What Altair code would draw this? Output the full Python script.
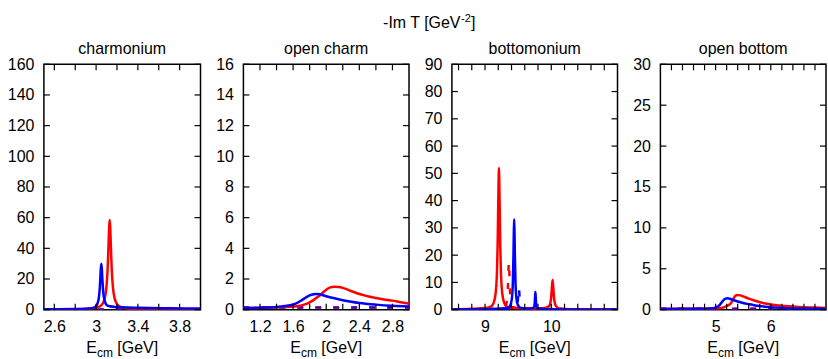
import altair as alt
import pandas as pd

FONT = "Liberation Sans"
RED = "#ff0000"
BLUE = "#0000ff"
H = 246

# ---------------- charmonium ----------------
CH_RED_X = [2.5, 2.73, 2.93, 3.01, 3.05, 3.07, 3.09, 3.10, 3.11, 3.115, 3.12, 3.125, 3.13,
            3.135, 3.14, 3.145, 3.15, 3.16, 3.17, 3.19, 3.21, 3.25, 3.33, 3.53, 4.0]
CH_RED_Y = [0.1, 0.2, 0.55, 1.4, 2.9, 4.9, 9.9, 15.5, 26, 34.5, 44.5, 54, 58.5,
            54, 44.5, 34.5, 26, 15.5, 9.9, 4.9, 2.9, 1.4, 0.55, 0.2, 0.1]
CH_BLUE_X = [2.5, 2.8, 2.9, 2.97, 3.0, 3.02, 3.03, 3.035, 3.04, 3.045, 3.05, 3.055, 3.06,
             3.065, 3.07, 3.08, 3.1, 3.13, 3.2, 3.4, 3.7, 4.0]
CH_BLUE_Y = [0.3, 0.4, 0.6, 1.2, 2.4, 5.5, 10, 14, 20, 26.6, 30, 26.6, 20,
             14.5, 10.5, 6.3, 3.2, 2.2, 1.7, 1.2, 0.9, 0.8]
CH_DASH_X = [2.5, 4.0]
CH_DASH_Y = [0.2, 0.2]

# ---------------- open charm ----------------
OC_RED_X = [1.0, 1.2, 1.4, 1.5, 1.6, 1.7, 1.75, 1.8, 1.85, 1.9, 1.95, 2.0, 2.05, 2.1,
            2.15, 2.2, 2.3, 2.4, 2.5, 2.6, 2.7, 2.8, 2.9, 3.0]
OC_RED_Y = [0.1, 0.12, 0.15, 0.17, 0.2, 0.27, 0.36, 0.48, 0.64, 0.84, 1.06, 1.3, 1.45, 1.5,
            1.48, 1.42, 1.22, 1.02, 0.88, 0.76, 0.67, 0.59, 0.49, 0.4]
OC_BLUE_X = [1.0, 1.2, 1.4, 1.5, 1.6, 1.65, 1.7, 1.75, 1.8, 1.85, 1.88, 1.92, 2.0, 2.1,
             2.2, 2.3, 2.4, 2.6, 2.8, 3.0]
OC_BLUE_Y = [0.1, 0.13, 0.18, 0.24, 0.34, 0.45, 0.6, 0.78, 0.93, 1.0, 1.02, 1.0, 0.88, 0.74,
             0.62, 0.52, 0.44, 0.33, 0.25, 0.2]
OC_DASH_X = [1.0, 3.0]
OC_DASH_Y = [0.15, 0.15]

# ---------------- bottomonium ----------------
BB_RED_X = [8.5, 8.8, 9.0, 9.07, 9.11, 9.13, 9.16, 9.18, 9.19, 9.2, 9.21, 9.22, 9.23, 9.24,
            9.26, 9.29, 9.31, 9.35, 9.5, 9.7, 9.9, 9.97, 9.99, 10.0, 10.01, 10.02, 10.03,
            10.04, 10.05, 10.07, 10.12, 10.3, 10.6, 11.0]
BB_RED_Y = [0.1, 0.3, 0.6, 0.9, 1.6, 2.5, 6.0, 13.8, 23.3, 39.7, 52, 39.7, 23.3, 13.8,
            6.0, 2.5, 1.6, 0.9, 0.5, 0.4, 0.6, 1.4, 2.9, 4.9, 8.3, 10.9, 8.3,
            4.9, 2.9, 1.4, 0.4, 0.15, 0.1, 0.1]
BB_BLUE_X = [8.5, 9.0, 9.3, 9.36, 9.39, 9.41, 9.42, 9.43, 9.435, 9.44, 9.445, 9.45, 9.46,
             9.47, 9.49, 9.54, 9.65, 9.72, 9.74, 9.75, 9.755, 9.76, 9.765, 9.77, 9.78, 9.8,
             9.9, 10.5, 11.0]
BB_BLUE_Y = [0.1, 0.2, 0.5, 0.85, 2.1, 5.2, 9.9, 20.9, 28.9, 33.2, 28.9, 20.9, 9.9,
             5.2, 2.1, 0.6, 0.4, 0.6, 0.9, 2.5, 4.7, 6.5, 4.7, 2.5, 0.9, 0.4,
             0.2, 0.1, 0.1]
BB_RDASH_X = [8.5, 9.2, 9.3, 9.33, 9.345, 9.355, 9.36, 9.365, 9.375, 9.39, 9.42, 9.6, 11.0]
BB_RDASH_Y = [0.15, 0.3, 1.0, 3, 8, 15, 17.6, 15, 8, 3, 1.0, 0.3, 0.15]
BB_BDASH_X = [8.5, 9.3, 9.42, 9.44, 9.46, 9.48, 9.495, 9.505, 9.51, 9.515, 9.525, 9.54, 9.6, 11.0]
BB_BDASH_Y = [0.15, 0.2, 0.6, 1.2, 0.6, 1.0, 3.5, 7, 8.2, 7, 3.5, 1.0, 0.3, 0.15]

# ---------------- open bottom ----------------
OB_RED_X = [4.0, 4.5, 5.0, 5.1, 5.2, 5.28, 5.32, 5.36, 5.4, 5.45, 5.5, 5.6, 5.7, 5.8,
            5.9, 6.0, 6.2, 6.5, 6.8, 7.0]
OB_RED_Y = [0.08, 0.1, 0.15, 0.2, 0.45, 0.8, 1.3, 1.7, 1.8, 1.75, 1.63, 1.35, 1.12, 0.92,
            0.75, 0.64, 0.47, 0.33, 0.26, 0.22]
OB_BLUE_X = [4.0, 4.5, 4.8, 4.95, 5.02, 5.07, 5.1, 5.14, 5.18, 5.22, 5.27, 5.33, 5.4, 5.5,
             5.6, 5.7, 5.8, 5.9, 6.0, 6.2, 6.5, 7.0]
OB_BLUE_Y = [0.08, 0.1, 0.12, 0.18, 0.3, 0.55, 0.8, 1.15, 1.35, 1.4, 1.3, 1.15, 1.0, 0.82,
             0.68, 0.55, 0.45, 0.37, 0.3, 0.22, 0.15, 0.1]
OB_DASH_X = [4.0, 7.0]
OB_DASH_Y = [0.12, 0.12]

# ---------------- axes ----------------
SUBTITLES = ["charmonium", "open charm", "bottomonium", "open bottom"]
WIDTHS = [157, 166, 166, 166]
XDOMS = [[2.5, 4.0], [1.0, 3.0], [8.5, 11.0], [4.0, 7.0]]
YDOMS = [[0, 160], [0, 16], [0, 90], [0, 30]]
XLABELS = [[2.6, 3.0, 3.4, 3.8], [1.2, 1.6, 2.0, 2.4, 2.8], [9, 10], [5, 6]]
XTICKS = [
    [2.6, 2.8, 3.0, 3.2, 3.4, 3.6, 3.8],
    [1.2, 1.4, 1.6, 1.8, 2.0, 2.2, 2.4, 2.6, 2.8],
    [8.6, 8.8, 9.0, 9.2, 9.4, 9.6, 9.8, 10.0, 10.2, 10.4, 10.6, 10.8],
    [4.2, 4.4, 4.6, 4.8, 5.0, 5.2, 5.4, 5.6, 5.8, 6.0, 6.2, 6.4, 6.6, 6.8],
]
YLABELS = [
    [0, 20, 40, 60, 80, 100, 120, 140, 160],
    [0, 2, 4, 6, 8, 10, 12, 14, 16],
    [0, 10, 20, 30, 40, 50, 60, 70, 80, 90],
    [0, 5, 10, 15, 20, 25, 30],
]

SERIES = [
    [(CH_DASH_X, CH_DASH_Y, RED, True, 1.0), (CH_DASH_X, CH_DASH_Y, BLUE, True, 0.75),
     (CH_RED_X, CH_RED_Y, RED, False, 1.0), (CH_BLUE_X, CH_BLUE_Y, BLUE, False, 1.0)],
    [(OC_DASH_X, OC_DASH_Y, RED, True, 1.0), (OC_DASH_X, OC_DASH_Y, BLUE, True, 0.75),
     (OC_RED_X, OC_RED_Y, RED, False, 1.0), (OC_BLUE_X, OC_BLUE_Y, BLUE, False, 1.0)],
    [(BB_RDASH_X, BB_RDASH_Y, RED, True, 1.0), (BB_BDASH_X, BB_BDASH_Y, BLUE, True, 1.0),
     (BB_RED_X, BB_RED_Y, RED, False, 1.0), (BB_BLUE_X, BB_BLUE_Y, BLUE, False, 1.0)],
    [(OB_DASH_X, OB_DASH_Y, RED, True, 1.0), (OB_DASH_X, OB_DASH_Y, BLUE, True, 0.75),
     (OB_RED_X, OB_RED_Y, RED, False, 1.0), (OB_BLUE_X, OB_BLUE_Y, BLUE, False, 1.0)],
]

ONE = pd.DataFrame({"a": [0]})


def txt(s, x, y, size=16, align="left"):
    return alt.Chart(ONE).mark_text(
        text=s, font=FONT, fontSize=size, align=align, baseline="alphabetic", color="black"
    ).encode(x=alt.value(x), y=alt.value(y))


def make_panel(i):
    width = WIDTHS[i]
    xscale = alt.Scale(domain=XDOMS[i], nice=False, zero=False)
    yscale = alt.Scale(domain=YDOMS[i], nice=False, zero=False)
    common = dict(format="~r", ticks=False, domain=False, grid=False, labelFontSize=16,
                  labelFont=FONT, labelColor="black", title=None, labelFlush=False,
                  labelOverlap=False)
    xaxis = alt.Axis(values=XLABELS[i], labelPadding=9, **common)
    yaxis = alt.Axis(values=YLABELS[i], labelPadding=10, **common)
    X = alt.X("x:Q", scale=xscale, axis=xaxis)
    Y = alt.Y("y:Q", scale=yscale, axis=yaxis)

    layers = []
    for xs, ys, color, dash, op in SERIES[i]:
        df = pd.DataFrame({"x": xs, "y": ys})
        kw = dict(color=color, strokeWidth=2.5, clip=True, interpolate="monotone", opacity=op)
        if dash:
            kw["strokeDash"] = [6, 12]
        layers.append(alt.Chart(df).mark_line(**kw).encode(x=X, y=Y))

    tx = pd.DataFrame({"x": XTICKS[i]})
    for y0, y1 in [(0, 6), (H, H - 6)]:
        layers.append(alt.Chart(tx).mark_rule(color="black", strokeWidth=1.2).encode(
            x=X, y=alt.value(y0), y2=alt.value(y1)))
    ty = pd.DataFrame({"y": YLABELS[i]})
    for x0, x1 in [(0, 6), (width, width - 6)]:
        layers.append(alt.Chart(ty).mark_rule(color="black", strokeWidth=1.2).encode(
            y=Y, x=alt.value(x0), x2=alt.value(x1)))

    # subtitle
    layers.append(txt(SUBTITLES[i], width / 2, -10, align="center"))
    # x-axis title E_cm [GeV]
    start = width / 2 - 36
    layers.append(txt("E", start, H + 43))
    layers.append(txt("cm", start + 10.7, H + 47, size=12))
    layers.append(txt("[GeV]", start + 31.1, H + 43))
    if i == 1:
        layers.append(txt("-Im T [GeV", 140, -36.3))
        layers.append(txt("-2", 218.2, -42, size=11))
        layers.append(txt("]", 228.2, -36.3))
    return alt.layer(*layers).properties(width=width, height=H)


chart = alt.hconcat(*[make_panel(i) for i in range(4)], spacing=43, bounds="flush").properties(
    padding={"left": 6, "top": 12, "right": 0, "bottom": 0},
    background="white",
).configure_view(stroke="black", strokeWidth=1.5)

chart.save("out.html", embed_options={"renderer": "svg", "actions": False})
